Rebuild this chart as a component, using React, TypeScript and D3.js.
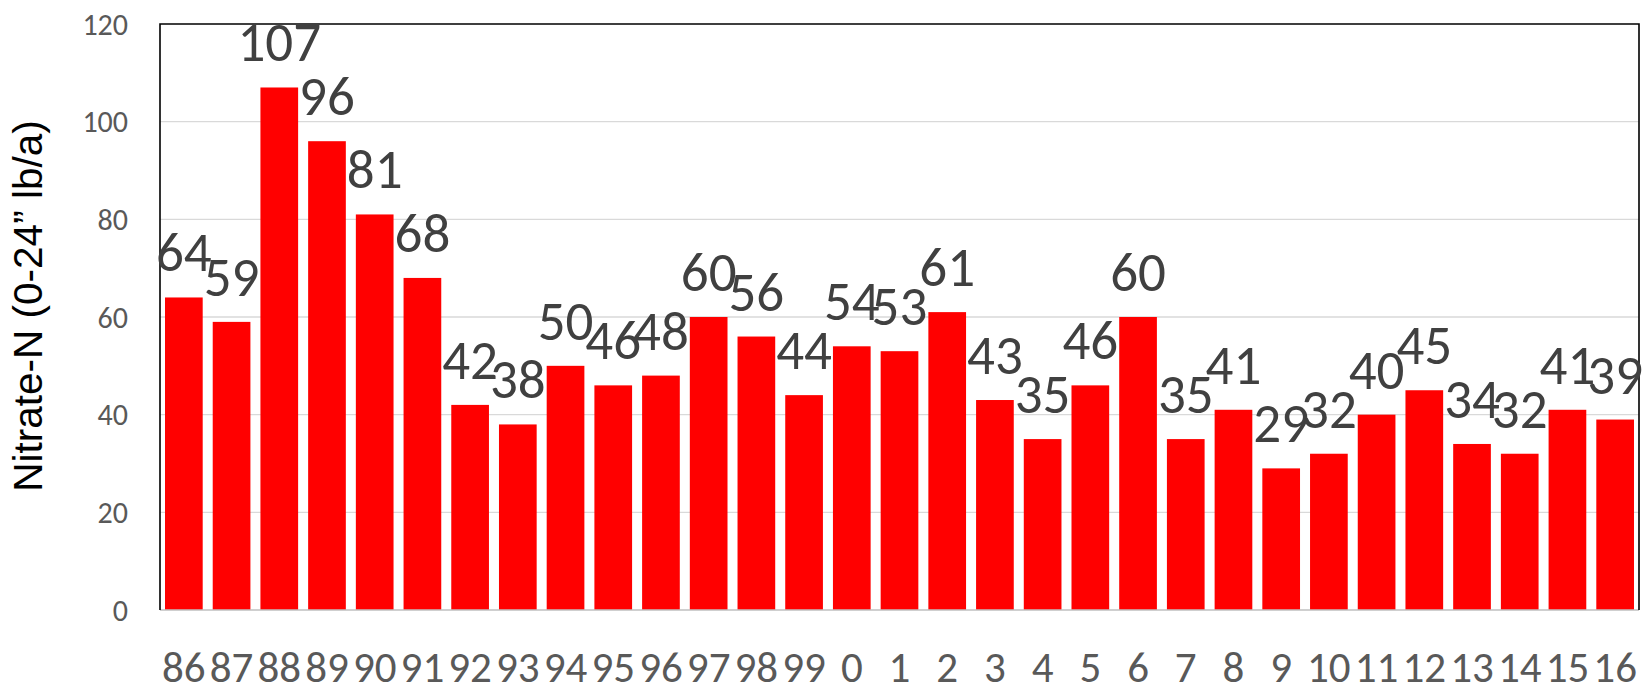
import React from 'react';
import * as d3 from 'd3';

const years = ['86', '87', '88', '89', '90', '91', '92', '93', '94', '95', '96', '97', '98', '99',
  '0', '1', '2', '3', '4', '5', '6', '7', '8', '9', '10', '11', '12', '13', '14', '15', '16'];
const nitrate = [64, 59, 107, 96, 81, 68, 42, 38, 50, 46, 48, 60, 56, 44,
  54, 53, 61, 43, 35, 46, 60, 35, 41, 29, 32, 40, 45, 34, 32, 41, 39];
const yTicks = [0, 20, 40, 60, 80, 100, 120];
const yTitle = 'Nitrate-N (0-24\u201d lb/a)';

const W = 1645;
const H = 686;
const margin = { top: 24, right: 6, bottom: 76, left: 160 };
const numFont = 'Carlito, Calibri, Lato, "Open Sans", sans-serif';

const App = () => {
  const x = d3.scaleBand<string>()
    .domain(years)
    .range([margin.left, W - margin.right])
    .paddingInner(0.21)
    .paddingOuter(0.105);
  const y = d3.scaleLinear().domain([0, 120]).range([H - margin.bottom, margin.top]);

  const x0 = margin.left;
  const x1 = W - margin.right;
  const y0 = y(0);
  const yTop = y(120);
  const mid = (c: string) => (x(c) ?? 0) + x.bandwidth() / 2;

  return (
    <svg width={W} height={H} style={{ position: 'absolute', left: 0, top: 0, background: '#fff' }}>
      {/* gridlines */}
      {yTicks.filter(t => t > 0 && t < 120).map(t => (
        <line key={t} x1={x0} x2={x1} y1={y(t)} y2={y(t)} stroke="#d9d9d9" strokeWidth={1.4} />
      ))}

      {/* bars */}
      {nitrate.map((v, i) => (
        <rect key={years[i]} x={x(years[i])} y={y(v)} width={x.bandwidth()} height={y0 - y(v)}
          fill="#ff0000" />
      ))}

      {/* plot frame */}
      <line x1={x0} x2={x1} y1={y0} y2={y0} stroke="#bfbfbf" strokeWidth={1.5} />
      <path d={`M${x0},${y0}V${yTop}H${x1}V${y0}`} fill="none" stroke="#000" strokeWidth={1.6} />

      {/* y tick labels */}
      {yTicks.map(t => (
        <text key={t} x={128} y={y(t)} textAnchor="end" dominantBaseline="central"
          fontFamily={numFont} fontSize={30} fill="#595959">{t}</text>
      ))}

      {/* x tick labels */}
      {years.map(c => (
        <text key={c} x={mid(c)} y={682} textAnchor="middle"
          fontFamily={numFont} fontSize={43} fill="#595959">{c}</text>
      ))}

      {/* data labels */}
      {nitrate.map((v, i) => (
        <text key={years[i]} x={mid(years[i])} y={y(v) - 26}
          textAnchor="middle" fontFamily={numFont} fontSize={55} fill="#404040">{d3.format('d')(v)}</text>
      ))}

      {/* y title */}
      <text transform="translate(42,306) rotate(-90)" textAnchor="middle"
        fontFamily='"Liberation Sans", Arial, sans-serif' fontSize={40.5} fill="#000">{yTitle}</text>
    </svg>
  );
};

export default App;
